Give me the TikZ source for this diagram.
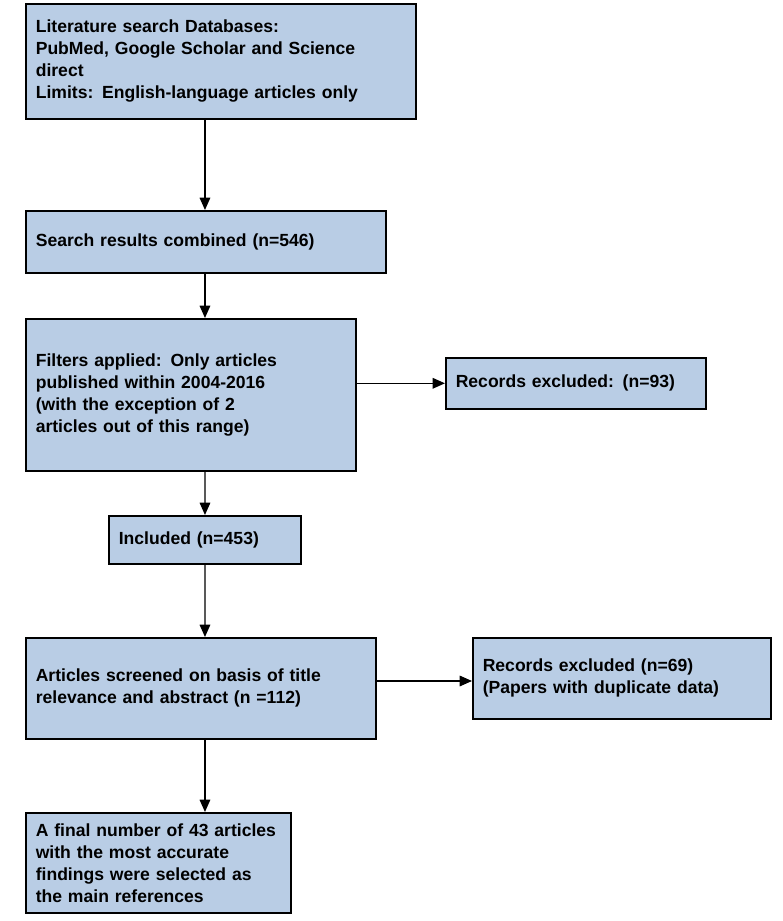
\documentclass[tikz,border=0pt]{standalone}
\usepackage{fontspec}
\setmainfont{Liberation Sans}
\usetikzlibrary{arrows.meta}
\definecolor{boxblue}{RGB}{185,205,229}
\tikzset{
  flowbox/.style={draw=black, line width=0.9pt, fill=boxblue, anchor=north west,
    align=left, inner sep=0pt, font=\fontsize{10}{12.5}\selectfont\bfseries},
  arr/.style={-{Triangle[length=7pt,width=6pt]}, line width=0.8pt}
}
\begin{document}
\begin{tikzpicture}[x=0.02cm,y=-0.02cm]
\useasboundingbox (0,0) rectangle (783,921);
\node [flowbox, minimum width=7.8cm, minimum height=2.3cm, text width=7.4cm] (search) at (25,3)
  {Literature search Databases:\\PubMed, Google Scholar and Science\\direct\\Limits: English-language articles only};
\node [flowbox, minimum width=7.2cm, minimum height=1.24cm, text width=6.8cm] (combined) at (25,210)
  {Search results combined (n=546)};
\node [flowbox, minimum width=6.6cm, minimum height=3.04cm, text width=6.2cm] (filters) at (25,318)
  {Filters applied: Only articles\\published within 2004-2016\\(with the exception of 2\\articles out of this range)};
\node [flowbox, minimum width=5.2cm, minimum height=1.02cm, text width=4.8cm] (excl1) at (445,357)
  {Records excluded: (n=93)};
\node [flowbox, minimum width=3.84cm, minimum height=0.96cm, text width=3.44cm] (included) at (108,515)
  {Included (n=453)};
\node [flowbox, minimum width=7cm, minimum height=2.02cm, text width=6.6cm] (screened) at (25,637)
  {Articles screened on basis of title\\relevance and abstract (n =112)};
\node [flowbox, minimum width=5.96cm, minimum height=1.62cm, text width=5.56cm] (excl2) at (472,637)
  {Records excluded (n=69)\\(Papers with duplicate data)};
\node [flowbox, minimum width=5.3cm, minimum height=2cm, text width=4.9cm] (final) at (25,812)
  {A final number of 43 articles\\with the most accurate\\findings were selected as\\the main references};
% vertical flow
\draw [arr] ([xshift=3.6cm]search.south west) -- ([xshift=3.6cm]combined.north west);
\draw [arr] ([xshift=3.6cm]combined.south west) -- ([xshift=3.6cm]filters.north west);
\draw [arr] ([xshift=3.6cm]filters.south west) -- ([xshift=1.94cm]included.north west);
\draw [arr] ([xshift=1.94cm]included.south west) -- ([xshift=3.6cm]screened.north west);
\draw [arr] ([xshift=3.6cm]screened.south west) -- ([xshift=3.6cm]final.north west);
% exclusions
\draw [arr] (filters.east |- excl1.west) -- (excl1.west);
\draw [arr] ([yshift=-0.88cm]screened.north east) -- ([yshift=-0.88cm]excl2.north west);
\end{tikzpicture}
\end{document}
